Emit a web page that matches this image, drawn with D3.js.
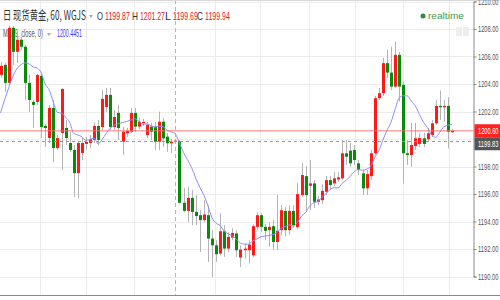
<!DOCTYPE html>
<html><head><meta charset="utf-8">
<script src="https://cdn.jsdelivr.net/npm/d3@7"></script>
<style>body{margin:0;background:#fff}svg{display:block}</style>
</head><body><svg id="c" width="500" height="300"></svg>
<script>
// ---- data (60-minute bars) ----
const openV = [1204.66,1205.39,1204.08,1208.09,1206.34,1207.22,1206.71,1204.08,1202.70,1202.70,
1204.59,1200.95,1200.07,1202.26,1199.34,1200.44,1200.80,1199.71,1199.20,1197.52,
1198.98,1199.64,1199.71,1199.93,1200.95,1200.87,1202.33,1203.21,1200.87,1201.90,
1199.80,1200.42,1200.53,1201.90,1200.90,1201.17,1200.29,1200.90,1200.90,1199.80,
1201.26,1200.17,1199.69,1199.78,1199.85,1195.36,1194.77,1195.72,1194.70,1194.46,
1194.10,1194.46,1192.76,1192.27,1191.67,1193.29,1192.03,1192.83,1193.13,1191.38,
1191.91,1191.91,1191.54,1193.61,1194.46,1193.61,1193.37,1193.66,1192.51,1193.37,
1194.77,1193.37,1194.77,1193.59,1195.92,1197.30,1196.60,1196.77,1195.43,1195.55,
1196.16,1197.01,1196.77,1197.06,1197.14,1198.96,1199.15,1199.20,1198.23,1197.50,
1196.41,1197.30,1198.96,1202.97,1203.33,1205.52,1204.83,1203.81,1206.12,1203.94,
1198.96,1198.83,1199.49,1199.64,1200.05,1199.98,1200.29,1201.14,1202.41,1202.31,
1202.41,1200.49];
const highV = [1205.61,1205.54,1208.24,1208.24,1207.73,1207.43,1206.85,1204.66,1202.84,1204.74,
1204.74,1201.09,1202.48,1202.84,1200.29,1203.72,1201.38,1200.51,1199.56,1199.85,
1200.07,1200.15,1200.29,1201.17,1201.38,1203.57,1203.72,1203.72,1202.11,1202.48,
1200.87,1200.80,1202.26,1202.26,1201.53,1201.46,1201.24,1201.17,1201.24,1201.99,
1201.53,1200.44,1200.00,1200.00,1199.93,1196.43,1196.52,1196.28,1195.92,1194.82,
1195.55,1195.19,1193.37,1192.64,1194.61,1193.73,1193.22,1193.51,1193.37,1192.27,
1192.40,1192.64,1193.80,1194.68,1194.61,1193.80,1193.95,1194.10,1195.92,1195.19,
1195.04,1195.19,1195.19,1196.79,1198.25,1198.03,1198.47,1197.01,1195.85,1196.72,
1197.30,1197.30,1197.59,1197.59,1199.93,1199.93,1199.71,1199.56,1198.47,1197.74,
1197.74,1199.20,1203.13,1203.72,1205.90,1206.49,1206.71,1207.09,1206.34,1204.15,
1199.93,1201.17,1201.17,1200.44,1200.44,1200.80,1201.38,1202.84,1203.52,1202.84,
1203.04,1200.73];
const lowV = [1204.45,1203.43,1203.94,1205.39,1205.54,1206.49,1202.84,1201.97,1200.80,1202.48,
1200.07,1199.42,1199.71,1198.32,1199.20,1197.74,1199.56,1199.05,1195.77,1195.70,
1198.47,1199.20,1199.34,1199.71,1199.56,1200.66,1201.97,1200.66,1200.66,1199.93,
1198.83,1200.15,1200.44,1200.51,1200.73,1200.95,1200.07,1199.93,1199.20,1199.20,
1199.44,1199.07,1198.98,1199.64,1195.30,1194.68,1193.97,1193.73,1193.73,1191.79,
1193.95,1191.06,1189.96,1191.06,1191.54,1191.42,1191.76,1192.64,1191.40,1190.69,
1191.30,1190.96,1191.40,1193.37,1193.22,1192.64,1192.15,1191.91,1191.91,1193.00,
1192.93,1193.00,1193.51,1193.44,1195.77,1194.82,1194.82,1194.97,1195.19,1195.26,
1195.92,1196.28,1196.57,1196.87,1197.01,1198.10,1197.96,1198.10,1197.38,1195.92,
1195.92,1197.01,1198.83,1202.84,1203.13,1204.45,1203.57,1203.72,1202.72,1196.77,
1198.10,1197.98,1199.20,1199.42,1199.42,1199.78,1200.15,1201.02,1201.38,1201.26,
1199.32,1200.44];
const closeV = [1205.32,1204.08,1208.09,1206.34,1207.22,1206.71,1204.08,1202.84,1202.48,1204.66,
1200.87,1200.80,1202.26,1199.34,1200.07,1203.64,1200.07,1199.20,1197.52,1199.71,
1199.71,1199.78,1200.00,1200.95,1199.93,1202.92,1203.21,1200.87,1201.60,1200.80,
1200.53,1200.60,1201.90,1200.90,1201.26,1201.24,1201.02,1200.53,1199.80,1201.26,
1200.05,1199.69,1199.80,1199.88,1195.36,1194.77,1195.72,1194.70,1194.39,1194.10,
1194.51,1192.76,1192.27,1191.62,1193.29,1192.03,1192.88,1193.17,1191.91,1191.96,
1192.03,1192.32,1193.66,1194.46,1193.61,1193.32,1193.61,1192.51,1193.32,1194.82,
1193.37,1194.77,1193.73,1195.99,1197.38,1195.92,1196.77,1195.43,1195.60,1196.23,
1197.01,1196.65,1197.14,1197.21,1198.96,1198.71,1198.23,1198.47,1197.74,1196.41,
1197.45,1198.96,1202.97,1203.33,1205.52,1204.83,1203.81,1206.12,1203.81,1198.96,
1198.83,1199.56,1200.05,1200.07,1199.64,1200.42,1201.14,1202.41,1202.31,1202.41,
1200.53,1200.60];
// MA(9) values of the first 8 bars (their window starts before the visible range)
const maHead = [1201.90,1202.84,1203.72,1204.52,1205.10,1205.39,1205.54,1205.47];
const priceTicks = [1190,1192,1194,1196,1198,1200,1202,1204,1206,1208,1210];
const timeGridBars = [9.7,21,32.8,52.7,63.8,75.8,87.1,98.9,110.2];
const sessionBreakBars = [42.9];
const lastPrice = 1200.60;
const prevClose = 1199.83;
const titleText = "日 现货黄金, 60, WGJS";
const ohlcLabels = ["O","H","L","C"];
const ohlcValues = ["1199.87","1201.27","1199.69","1199.94"];
const maLabel = "MA (9, close, 0)";
const maValueText = "1200.4451";

// ---- drawing ----
const W = 500, H = 300, plotR = 473.5, plotB = 295;
const FONT = "'Liberation Sans',Arial,sans-serif";
const svg = d3.select("#c");
const n = closeV.length;
const x = d3.scaleLinear().domain([0, n - 1]).range([0.5, 452]);
const y = d3.scaleLinear().domain([1190, 1210]).range([276.5, 1.5]);

const bars = d3.range(n).map(i => ({i, o: openV[i], h: highV[i], l: lowV[i], c: closeV[i]}));
const ma = bars.map((b, i) => i < 8 ? maHead[i] : d3.mean(closeV.slice(i - 8, i + 1)));

// text squeezed horizontally to a target width (condensed look of the original)
function txt(sel, t, px, py, size, color, len, fam){
  const e = sel.append("text").attr("font-size",size).attr("fill",color)
    .attr("font-family",fam||FONT).text(t);
  let s = 1;
  if (len) { const w = e.node().getComputedTextLength(); if (w > 0) s = len / w; }
  e.attr("transform",`translate(${px},${py}) scale(${s},1)`);
  return e;
}

svg.append("defs").append("clipPath").attr("id","clp").append("rect")
  .attr("x",0).attr("y",0).attr("width",plotR).attr("height",plotB);

// grid
svg.append("g").selectAll("line").data(priceTicks).join("line")
  .attr("x1",0).attr("x2",plotR).attr("y1",d=>Math.round(y(d))+0.5).attr("y2",d=>Math.round(y(d))+0.5)
  .attr("stroke","#ececec").attr("stroke-width",1);
svg.append("g").selectAll("line").data(timeGridBars).join("line")
  .attr("x1",d=>Math.round(x(d))+0.5).attr("x2",d=>Math.round(x(d))+0.5).attr("y1",0).attr("y2",plotB)
  .attr("stroke","#ececec").attr("stroke-width",1);
svg.append("g").selectAll("line").data(sessionBreakBars).join("line")
  .attr("x1",d=>Math.round(x(d))+0.5).attr("x2",d=>Math.round(x(d))+0.5).attr("y1",0).attr("y2",plotB)
  .attr("stroke","#b8b8b8").attr("stroke-width",1).attr("stroke-dasharray","4,3");

// top border
svg.append("line").attr("x1",0).attr("x2",W).attr("y1",0.5).attr("y2",0.5).attr("stroke","#d8d8d8");

// legend text
const lg = svg.append("g");
txt(lg, titleText, 3, 20, 12.5, "#333", 83, "'Noto Sans CJK SC','Liberation Sans',sans-serif");
lg.append("path").attr("d","M89,15 l4,0 l-2,3 z").attr("fill","#aaa");
const ohlcX = [97,132,165,197];
ohlcLabels.forEach((t,k)=>{
  txt(lg, t, ohlcX[k], 19.5, 10.5, "#333", 6);
  txt(lg, ohlcValues[k], ohlcX[k]+8, 19.5, 10, "#e8151b", 25);
});
txt(lg, maLabel, 3, 37, 10, "#555", 40);
lg.append("path").attr("d","M47,33 l4,0 l-2,3 z").attr("fill","#aaa");
txt(lg, maValueText, 57, 37, 10, "#3a3aff", 25);

// candles
const cg = svg.append("g").attr("clip-path","url(#clp)");
cg.selectAll("line.w").data(bars).join("line").attr("class","w")
  .attr("x1",d=>Math.round(x(d.i))+0.5).attr("x2",d=>Math.round(x(d.i))+0.5)
  .attr("y1",d=>y(d.h)).attr("y2",d=>y(d.l)).attr("stroke","#b4b4b4").attr("stroke-width",1);
cg.selectAll("rect").data(bars).join("rect")
  .attr("x",d=>Math.round(x(d.i))-1).attr("width",3)
  .attr("y",d=>y(Math.max(d.o,d.c)))
  .attr("height",d=>Math.max(1.2, Math.abs(y(d.o)-y(d.c))))
  .attr("fill",d=>d.c>=d.o?"#ff1a1a":"#0a8a0a");

// MA line
cg.append("path").datum(ma).attr("fill","none").attr("stroke","#8c8cff").attr("stroke-width",1)
  .attr("d", d3.line().x((d,i)=>x(i)).y(d=>y(d)).curve(d3.curveMonotoneX));

// price lines
svg.append("line").attr("x1",0).attr("x2",plotR).attr("y1",y(lastPrice)).attr("y2",y(lastPrice))
  .attr("stroke","#ff6b6b").attr("stroke-opacity",0.6).attr("stroke-width",1.5);
svg.append("line").attr("x1",0).attr("x2",plotR).attr("y1",Math.round(y(prevClose))+0.5).attr("y2",Math.round(y(prevClose))+0.5)
  .attr("stroke","#999").attr("stroke-width",1).attr("stroke-dasharray","3,3");

// right axis
const ax = svg.append("g").attr("transform",`translate(${plotR},0)`)
  .call(d3.axisRight(y).tickValues(priceTicks.filter(v=>v!==1200)).tickSize(3).tickFormat(d3.format(".2f")));
ax.select(".domain").attr("stroke","#888");
ax.selectAll(".tick line").attr("stroke","#888");
ax.selectAll(".tick text").attr("x",0).attr("font-size",9).attr("fill","#555").attr("font-family",FONT)
  .each(function(){
    const w = this.getComputedTextLength();
    d3.select(this).attr("transform",`translate(4.5,0) scale(${20.5/w},1)`);
  });

// price labels
function tag(v, cy, bg){
  const g = svg.append("g");
  g.append("rect").attr("x",plotR+1).attr("y",cy-6.5).attr("width",W-plotR-1).attr("height",13).attr("fill",bg);
  txt(g, d3.format(".2f")(v), plotR+4.5, cy+3.5, 9, "#fff", 20.5);
}
tag(lastPrice, y(lastPrice), "#ff2020");
tag(prevClose, y(lastPrice)+13, "#555");

// bottom border
svg.append("line").attr("x1",0).attr("x2",W).attr("y1",plotB+0.5).attr("y2",plotB+0.5).attr("stroke","#888");

// realtime indicator
svg.append("circle").attr("cx",423).attr("cy",16).attr("r",2.5).attr("fill","#2e8b3e");
txt(svg, "realtime", 428, 19, 9.5, "#3d9a4d", 36);
svg.append("rect").attr("x",456).attr("y",27).attr("width",6).attr("height",9).attr("fill","#eee");
svg.append("rect").attr("x",463).attr("y",27).attr("width",6).attr("height",9).attr("fill","#eee");
</script></body></html>
